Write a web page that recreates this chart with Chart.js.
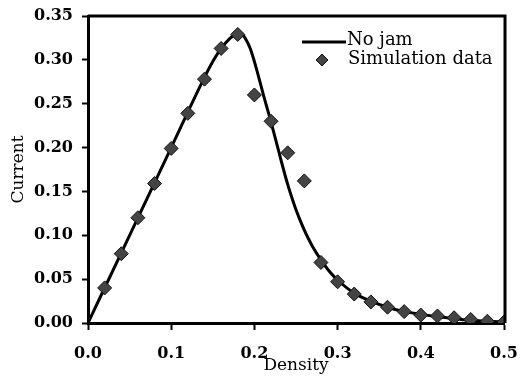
<!DOCTYPE html>
<html>
<head>
<meta charset="utf-8">
<script src="https://cdn.jsdelivr.net/npm/chart.js@4/dist/chart.umd.min.js"></script>
<style>
  html, body { margin: 0; padding: 0; background: #fff; }
  #wrap { width: 520px; height: 380px; }
</style>
</head>
<body>
<div id="wrap"><canvas id="chart"></canvas></div>
<script>
// Simulation data (diamonds)
const simDensity = [0.02, 0.04, 0.06, 0.08, 0.10, 0.12, 0.14, 0.16, 0.18, 0.20, 0.22, 0.24, 0.26,
                    0.28, 0.30, 0.32, 0.34, 0.36, 0.38, 0.40, 0.42, 0.44, 0.46, 0.48, 0.50];
const simCurrent = [0.040, 0.079, 0.120, 0.159, 0.199, 0.239, 0.278, 0.313, 0.329, 0.260, 0.230, 0.194, 0.162,
                    0.069, 0.047, 0.033, 0.024, 0.018, 0.013, 0.009, 0.008, 0.006, 0.004, 0.002, 0.001];

// "No jam" curve
const lineDensity = [0, 0.05, 0.10, 0.14, 0.15, 0.16, 0.17, 0.177, 0.183, 0.19, 0.195, 0.20, 0.205, 0.21,
                     0.215, 0.22, 0.225, 0.23, 0.235, 0.24, 0.245, 0.25, 0.255, 0.26, 0.265, 0.27, 0.28,
                     0.29, 0.30, 0.32, 0.34, 0.36, 0.38, 0.40, 0.42, 0.44, 0.46, 0.48, 0.50];
const lineCurrent = [0, 0.100, 0.200, 0.280, 0.298, 0.313, 0.324, 0.329, 0.331, 0.323, 0.313, 0.298, 0.281, 0.263,
                     0.246, 0.229, 0.211, 0.193, 0.175, 0.158, 0.143, 0.129, 0.117, 0.106, 0.096, 0.087, 0.072,
                     0.059, 0.049, 0.034, 0.025, 0.018, 0.013, 0.010, 0.007, 0.005, 0.003, 0.002, 0.001];

const xTicks = [0, 0.1, 0.2, 0.3, 0.4, 0.5];
const yTicks = [0, 0.05, 0.10, 0.15, 0.20, 0.25, 0.30, 0.35];

const serif = '"DejaVu Serif", "Liberation Serif", serif';

// top and right frame lines
const framePlugin = {
    id: 'frame',
    afterDraw(chart) {
        const a = chart.chartArea, ctx = chart.ctx;
        ctx.save();
        ctx.strokeStyle = '#000';
        ctx.lineWidth = 3;
        ctx.beginPath();
        ctx.moveTo(a.left, a.top);
        ctx.lineTo(a.right + 1, a.top);
        ctx.lineTo(a.right + 1, a.bottom);
        ctx.stroke();
        ctx.restore();
    }
};

// legend in the top right corner of the plot
const legendPlugin = {
    id: 'cornerLegend',
    afterDraw(chart) {
        const a = chart.chartArea, ctx = chart.ctx;
        const ds = chart.data.datasets;
        const x0 = a.right - 202;
        ctx.save();
        ctx.font = '18px ' + serif;
        ctx.fillStyle = '#000';
        ctx.textBaseline = 'middle';
        // line sample
        ctx.strokeStyle = '#000';
        ctx.lineWidth = 3;
        ctx.beginPath();
        ctx.moveTo(x0, a.top + 26);
        ctx.lineTo(x0 + 44, a.top + 26);
        ctx.stroke();
        ctx.fillText(ds[0].label, x0 + 45, a.top + 24);
        // diamond sample
        const cx = x0 + 20, cy = a.top + 44, r = 6;
        ctx.fillStyle = '#444';
        ctx.strokeStyle = '#111';
        ctx.lineWidth = 1;
        ctx.beginPath();
        ctx.moveTo(cx, cy - r); ctx.lineTo(cx + r, cy); ctx.lineTo(cx, cy + r); ctx.lineTo(cx - r, cy);
        ctx.closePath();
        ctx.fill(); ctx.stroke();
        ctx.fillStyle = '#000';
        ctx.fillText(ds[1].label, x0 + 46, a.top + 43);
        ctx.restore();
    }
};

new Chart(document.getElementById('chart'), {
    type: 'scatter',
    data: {
        datasets: [{
            label: 'No jam',
            data: lineDensity.map((x, i) => ({ x: x, y: lineCurrent[i] })),
            showLine: true,
            borderColor: '#000',
            borderWidth: 3,
            pointRadius: 0,
            cubicInterpolationMode: 'monotone',
            order: 2
        }, {
            label: 'Simulation data',
            data: simDensity.map((x, i) => ({ x: x, y: simCurrent[i] })),
            pointStyle: 'rectRot',
            pointRadius: 7,
            backgroundColor: '#444',
            borderColor: '#111',
            borderWidth: 1,
            order: 1
        }]
    },
    options: {
        responsive: true,
        maintainAspectRatio: false,
        animation: false,
        layout: { padding: 0 },
        plugins: {
            legend: { display: false },
            tooltip: { enabled: false }
        },
        scales: {
            x: {
                type: 'linear',
                min: 0,
                max: 0.5,
                afterBuildTicks: s => { s.ticks = xTicks.map(v => ({ value: v })); },
                afterFit: s => { s.height = 57; s.paddingLeft = 0; s.paddingRight = 16; },
                ticks: {
                    color: '#000',
                    padding: 14,
                    font: { family: serif, size: 16, weight: 'bold' },
                    callback: v => v.toFixed(1)
                },
                grid: { drawOnChartArea: false, drawTicks: true, tickLength: 7, tickWidth: 2, tickColor: '#000' },
                border: { display: true, color: '#000', width: 3 },
                title: {
                    display: true,
                    text: 'Density',
                    color: '#000',
                    font: { family: serif, size: 17 },
                    padding: { top: 0, bottom: 4 }
                }
            },
            y: {
                min: 0,
                max: 0.35,
                afterBuildTicks: s => { s.ticks = yTicks.map(v => ({ value: v })); },
                afterFit: s => { s.width = 88; s.paddingTop = 16; s.paddingBottom = 0; },
                ticks: {
                    color: '#000',
                    padding: 9,
                    font: { family: serif, size: 16, weight: 'bold' },
                    callback: v => v.toFixed(2)
                },
                grid: { drawOnChartArea: false, drawTicks: true, tickLength: 6, tickWidth: 2, tickColor: '#000' },
                border: { display: true, color: '#000', width: 3 },
                title: {
                    display: true,
                    text: 'Current',
                    color: '#000',
                    font: { family: serif, size: 17 },
                    padding: { top: 8, bottom: 0 }
                }
            }
        }
    },
    plugins: [framePlugin, legendPlugin]
});
</script>
</body>
</html>
